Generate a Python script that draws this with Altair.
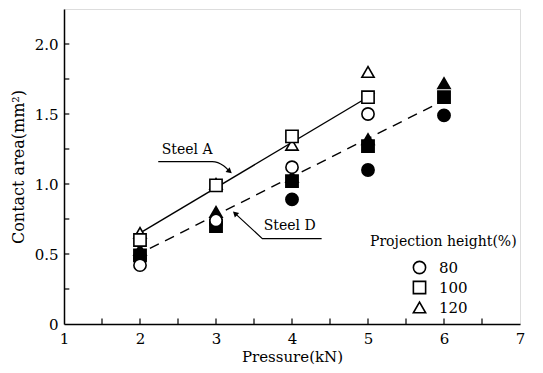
import altair as alt
import pandas as pd

# ---- data ----
pressure = [2, 3, 4, 5, 6]
# Steel A (open symbols), Steel D (filled symbols); None = no point
steelA_80 = [0.42, 0.74, 1.12, 1.50, None]
steelA_100 = [0.60, 0.99, 1.34, 1.62, None]
steelA_120 = [0.65, 1.00, 1.28, 1.80, None]
steelD_80 = [0.47, 0.72, 0.89, 1.10, 1.49]
steelD_100 = [0.49, 0.70, 1.02, 1.27, 1.62]
steelD_120 = [0.53, 0.80, 1.05, 1.32, 1.72]

heights = ["80", "100", "120"]

# fitted lines (end points)
lineA_x = [1.97, 5.09]
lineA_y = [0.64, 1.65]
lineD_x = [2.13, 6.08]
lineD_y = [0.54, 1.62]

# annotation leader lines
leadA_x = [2.24, 2.95, 3.10, 3.18]
leadA_y = [1.16, 1.16, 1.13, 1.09]
leadD_x = [4.39, 3.61, 3.25]
leadD_y = [0.61, 0.61, 0.79]
labels_txt = ["Steel A", "Steel D"]
labels_x = [2.62, 3.97]
labels_y = [1.24, 0.70]

x_ticks = [1.5, 2, 2.5, 3, 3.5, 4, 4.5, 5, 5.5, 6, 6.5]
y_ticks = [0.25, 0.5, 0.75, 1.0, 1.25, 1.5, 1.75, 2.0]

FONT = "DejaVu Serif"

rows = []
for steel, series in [("A", [steelA_80, steelA_100, steelA_120]),
                      ("D", [steelD_80, steelD_100, steelD_120])]:
    for h, vals in zip(heights, series):
        for p, v in zip(pressure, vals):
            if v is not None:
                rows.append({"p": p, "area": v, "steel": steel, "height": h})
pts = pd.DataFrame(rows)
pts["ord"] = (pts["steel"] == "A").astype(int)
pts = pts.sort_values("ord")

xs = alt.Scale(domain=[1, 7], nice=False, zero=False)
ys = alt.Scale(domain=[0, 2.25], nice=False)

xaxis = alt.Axis(values=[1, 2, 3, 4, 5, 6, 7], ticks=False, grid=False,
                 title="Pressure(kN)", labelFontSize=15, titleFontSize=15,
                 labelPadding=7, titlePadding=3, domainColor="black",
                 domainWidth=1.5, labelColor="black", titleColor="black",
                 labelFont=FONT, titleFont=FONT, labelFlush=False, format="d",
                 titleFontWeight="normal")
yaxis = alt.Axis(values=[0, 0.5, 1.0, 1.5, 2.0], ticks=False, grid=False,
                 title="Contact area(mm²)", labelFontSize=15, titleFontSize=16,
                 labelPadding=6, titlePadding=8, domainColor="black",
                 domainWidth=1.5, labelColor="black", titleColor="black",
                 labelFont=FONT, titleFont=FONT, labelFlush=False,
                 titleFontWeight="normal",
                 labelExpr="datum.value == 0 ? '0' : format(datum.value, '.1f')")

points = alt.Chart(pts).mark_point(size=150, strokeWidth=1.6, opacity=1,
                                   filled=False, stroke="black").encode(
    x=alt.X("p:Q", scale=xs, axis=xaxis),
    y=alt.Y("area:Q", scale=ys, axis=yaxis),
    shape=alt.Shape("height:N", scale=alt.Scale(domain=heights,
                    range=["circle", "square", "triangle-up"]),
                    legend=alt.Legend(title="Projection height(%)",
                                      orient="none", legendX=306, legendY=226,
                                      titleFont=FONT, titleFontSize=14,
                                      titleFontWeight="normal",
                                      labelFont=FONT, labelFontSize=15,
                                      titleColor="black", labelColor="black",
                                      symbolFillColor="white",
                                      symbolStrokeColor="black",
                                      symbolStrokeWidth=1.6, symbolSize=150,
                                      rowPadding=1, titlePadding=11,
                                      offset=0, padding=0,
                                      symbolOffset=42, labelOffset=12)),
    fill=alt.Fill("steel:N", scale=alt.Scale(domain=["A", "D"],
                  range=["white", "black"]), legend=None),
    order=alt.Order("ord:Q"),
)

dfA = pd.DataFrame({"x": lineA_x, "y": lineA_y})
dfD = pd.DataFrame({"x": lineD_x, "y": lineD_y})
lineA = alt.Chart(dfA).mark_line(color="black", strokeWidth=1.4).encode(
    x=alt.X("x:Q", scale=xs), y=alt.Y("y:Q", scale=ys))
lineD = alt.Chart(dfD).mark_line(color="black", strokeWidth=1.4,
                                 strokeDash=[10, 7]).encode(
    x=alt.X("x:Q", scale=xs), y=alt.Y("y:Q", scale=ys))

dLA = pd.DataFrame({"x": leadA_x, "y": leadA_y, "o": range(len(leadA_x))})
dLD = pd.DataFrame({"x": leadD_x, "y": leadD_y, "o": range(len(leadD_x))})
leadA = alt.Chart(dLA).mark_line(color="black", strokeWidth=1.2,
                                 interpolate="monotone").encode(
    x=alt.X("x:Q", scale=xs), y=alt.Y("y:Q", scale=ys), order="o:Q")
leadD = alt.Chart(dLD).mark_line(color="black", strokeWidth=1.2).encode(
    x=alt.X("x:Q", scale=xs), y=alt.Y("y:Q", scale=ys), order="o:Q")
headA = alt.Chart(dLA.tail(1)).mark_point(shape="triangle-up", filled=True,
                                          color="black", size=40, angle=130,
                                          opacity=1).encode(
    x=alt.X("x:Q", scale=xs), y=alt.Y("y:Q", scale=ys))
headD = alt.Chart(dLD.tail(1)).mark_point(shape="triangle-up", filled=True,
                                          color="black", size=40, angle=313,
                                          opacity=1).encode(
    x=alt.X("x:Q", scale=xs), y=alt.Y("y:Q", scale=ys))

dtx = pd.DataFrame({"t": labels_txt, "x": labels_x, "y": labels_y})
texts = alt.Chart(dtx).mark_text(font=FONT, fontSize=14, color="black").encode(
    x=alt.X("x:Q", scale=xs), y=alt.Y("y:Q", scale=ys), text="t:N")

# inward tick marks
dxt = pd.DataFrame({"v": x_ticks})
dyt = pd.DataFrame({"v": y_ticks})
xt = alt.Chart(dxt).mark_rule(color="black", strokeWidth=1.2).encode(
    x=alt.X("v:Q", scale=xs), y=alt.datum(0, scale=ys), y2=alt.datum(0.04))
yt = alt.Chart(dyt).mark_rule(color="black", strokeWidth=1.2).encode(
    y=alt.Y("v:Q", scale=ys), x=alt.datum(1, scale=xs), x2=alt.datum(1.07))

chart = alt.layer(xt, yt, lineA, lineD, leadA, leadD, headA, headD, texts,
                  points).properties(
    width=456, height=315,
    autosize=alt.AutoSizeParams(type="none"),
    padding={"left": 56, "top": 1, "right": 10, "bottom": 48},
).configure_view(stroke="black", strokeWidth=1.5).configure(
    background="white", font=FONT)

chart.save("out.html", embed_options={"renderer": "svg", "actions": False})
